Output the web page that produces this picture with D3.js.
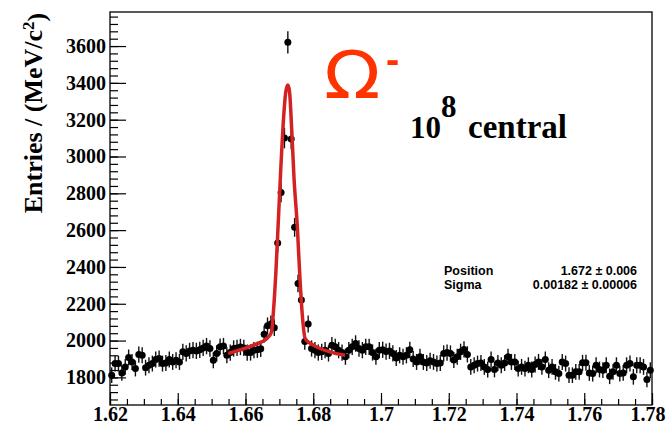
<!DOCTYPE html>
<html>
<head>
<meta charset="utf-8">
<script src="https://cdn.jsdelivr.net/npm/d3@7"></script>
<style>
    body { margin: 0; background: #fff; }
    #chart-area { width: 666px; height: 427px; }
    .axis path { display: none; }
    .axis line { stroke: #000; stroke-width: 1.2; }
    .tick-label { font-family: "Liberation Serif", "Times New Roman", serif; font-weight: bold; fill: #000; }
</style>
</head>
<body>
<div id="chart-area"></div>
<script>

// histogram: first bin edge, bin width (GeV/c^2), and entries per bin
const binStart = 1.62;
const binWidth = 0.001;
const entries = [
    1812, 1875, 1875, 1824, 1857, 1908, 1884, 1848, 1924, 1920,
    1853, 1866, 1875, 1897, 1902, 1875, 1878, 1897, 1884, 1893,
    1884, 1939, 1930, 1944, 1948, 1944, 1950, 1960, 1970, 1957,
    1893, 1930, 1967, 1970, 1920, 1935, 1957, 1960, 1965, 1960,
    1935, 1935, 1948, 1950, 1955, 2035, 2080, 2090, 2070, 2530,
    2805, 3100, 3620, 3095, 2615, 2310, 2220, 1995, 2090, 1957,
    1948, 1935, 1939, 1948, 1930, 1975, 1966, 1948, 1935, 1912,
    1948, 1966, 1984, 1957, 1948, 1966, 1966, 1935, 1912, 1948,
    1950, 1940, 1944, 1930, 1905, 1920, 1912, 1920, 1950, 1900,
    1884, 1912, 1884, 1878, 1890, 1884, 1875, 1878, 1930, 1935,
    1930, 1895, 1912, 1939, 1952, 1925, 1857, 1866, 1875, 1878,
    1857, 1843, 1897, 1843, 1878, 1866, 1878, 1912, 1884, 1884,
    1848, 1857, 1848, 1866, 1843, 1870, 1884, 1857, 1897, 1839,
    1857, 1830, 1821, 1884, 1875, 1812, 1812, 1830, 1830, 1879,
    1879, 1824, 1821, 1866, 1843, 1839, 1866, 1806, 1830, 1866,
    1821, 1824, 1866, 1875, 1803, 1866, 1866, 1857, 1789, 1839
];

// fit curve
const fitMass = [1.6549, 1.6623, 1.6663, 1.6677, 1.6682, 1.6690, 1.6697, 1.6704, 1.6712, 1.6719, 1.6725,
    1.6730, 1.6736, 1.6743, 1.6753, 1.6761, 1.6769, 1.6776, 1.6800, 1.6849, 1.6894];
const fitEntries = [1930, 1975, 2011, 2047, 2147, 2383, 2654, 2926, 3198, 3352, 3388,
    3352, 3162, 2890, 2618, 2328, 2111, 2011, 1975, 1939, 1920];

// axes
const xDomain = [1.62, 1.78];
const yDomain = [1650, 3785];
const xTicks = [1.62, 1.64, 1.66, 1.68, 1.70, 1.72, 1.74, 1.76, 1.78];
const xTickLabels = ["1.62", "1.64", "1.66", "1.68", "1.7", "1.72", "1.74", "1.76", "1.78"];
const yTicks = [1800, 2000, 2200, 2400, 2600, 2800, 3000, 3200, 3400, 3600];

// fit results
const statNames = ["Position", "Sigma"];
const statValues = ["1.672 \u00b1 0.006", "0.00182 \u00b1 0.00006"];

class OmegaVis {

    constructor(_parentElement) {
        this.parentElement = _parentElement;
        this.initVis();
    }

    initVis() {
        let vis = this;

        vis.margin = {top: 12, right: 14, bottom: 22, left: 110};
        vis.width = 666 - vis.margin.left - vis.margin.right;
        vis.height = 427 - vis.margin.top - vis.margin.bottom;

        vis.root = d3.select("#" + vis.parentElement).append("svg")
            .attr("width", 666)
            .attr("height", 427);

        vis.svg = vis.root.append("g")
            .attr("transform", "translate(" + vis.margin.left + "," + vis.margin.top + ")");

        vis.x = d3.scaleLinear().domain(xDomain).range([0, vis.width]);
        vis.y = d3.scaleLinear().domain(yDomain).range([vis.height, 0]);

        vis.wrangleData();
    }

    wrangleData() {
        let vis = this;

        vis.points = entries.map((n, i) => ({
            mass: binStart + (i + 0.5) * binWidth,
            n: n,
            err: Math.sqrt(n)
        }));

        vis.fit = fitMass.map((m, i) => ({mass: m, n: fitEntries[i]}));

        vis.updateVis();
    }

    updateVis() {
        let vis = this;

        // minor ticks first, majors on top
        let xMinor = d3.range(0, 33).map(i => xDomain[0] + i * 0.005);
        let yMinor = d3.range(1680, 3785, 40);

        vis.svg.append("g")
            .attr("class", "axis")
            .attr("transform", "translate(0," + vis.height + ")")
            .call(d3.axisBottom(vis.x).tickValues(xMinor).tickSize(-6).tickFormat(""));

        vis.svg.append("g")
            .attr("class", "axis")
            .call(d3.axisLeft(vis.y).tickValues(yMinor).tickSize(-8).tickFormat(""));

        let xAxisGroup = vis.svg.append("g")
            .attr("class", "axis x-axis")
            .attr("transform", "translate(0," + vis.height + ")")
            .call(d3.axisBottom(vis.x).tickValues(xTicks).tickSize(-12).tickPadding(2)
                .tickFormat((d, i) => xTickLabels[i]));
        xAxisGroup.selectAll("text")
            .attr("class", "tick-label")
            .style("font-size", "20px");
        // last label would run off the page, pull it in like the original
        xAxisGroup.selectAll("text")
            .filter((d, i) => i === xTicks.length - 1)
            .attr("text-anchor", "end")
            .attr("x", 13);

        let yAxisGroup = vis.svg.append("g")
            .attr("class", "axis y-axis")
            .call(d3.axisLeft(vis.y).tickValues(yTicks).tickSize(-16).tickPadding(4)
                .tickFormat(d3.format("d")));
        yAxisGroup.selectAll("text")
            .attr("class", "tick-label")
            .style("font-size", "20px");

        // frame
        vis.svg.append("rect")
            .attr("width", vis.width)
            .attr("height", vis.height)
            .attr("fill", "none")
            .attr("stroke", "#000")
            .attr("stroke-width", 1.3);

        // error bars + markers
        vis.svg.selectAll(".err")
            .data(vis.points)
            .enter()
            .append("line")
            .attr("class", "err")
            .attr("x1", d => vis.x(d.mass))
            .attr("x2", d => vis.x(d.mass))
            .attr("y1", d => vis.y(d.n - d.err))
            .attr("y2", d => vis.y(d.n + d.err))
            .attr("stroke", "#111")
            .attr("stroke-width", 1.4);

        vis.svg.selectAll(".pt")
            .data(vis.points)
            .enter()
            .append("circle")
            .attr("class", "pt")
            .attr("cx", d => vis.x(d.mass))
            .attr("cy", d => vis.y(d.n))
            .attr("r", 3.5)
            .attr("fill", "#000");

        // fit line
        vis.svg.append("path")
            .datum(vis.fit)
            .attr("fill", "none")
            .attr("stroke", "#d42222")
            .attr("stroke-width", 3.5)
            .attr("stroke-linejoin", "round")
            .attr("d", d3.line()
                .x(d => vis.x(d.mass))
                .y(d => vis.y(d.n))
                .curve(d3.curveMonotoneX));

        // y title
        let title = vis.root.append("text")
            .attr("transform", "translate(42,113) rotate(-90)")
            .attr("text-anchor", "middle")
            .attr("class", "tick-label")
            .style("font-size", "26px");
        title.append("tspan").text("Entries / (MeV/c");
        title.append("tspan").attr("dy", "-0.5em").style("font-size", "17px").text("2");
        title.append("tspan").attr("dy", "0.45em").text(")");

        // particle label
        vis.root.append("text")
            .attr("transform", "translate(324,98) scale(1.12,1)")
            .attr("font-family", "'DejaVu Sans', 'Liberation Sans', sans-serif")
            .attr("font-size", 66)
            .attr("fill", "#ff3300")
            .text("\u03a9");
        vis.root.append("text")
            .attr("x", 386).attr("y", 73)
            .attr("font-family", "'Liberation Sans', Arial, sans-serif")
            .attr("font-weight", "bold")
            .attr("font-size", 40)
            .attr("fill", "#ff3300")
            .text("-");

        // 10^8 central
        vis.root.append("text")
            .attr("class", "tick-label")
            .attr("x", 410).attr("y", 138)
            .style("font-size", "31px")
            .text("10");
        vis.root.append("text")
            .attr("class", "tick-label")
            .attr("x", 441).attr("y", 117)
            .style("font-size", "31px")
            .text("8");
        vis.root.append("text")
            .attr("class", "tick-label")
            .attr("x", 468).attr("y", 138)
            .style("font-size", "33px")
            .text("central");

        // stats
        statNames.forEach((name, i) => {
            vis.root.append("text")
                .attr("x", 444).attr("y", 275 + i * 14)
                .attr("font-family", "'Liberation Sans', Arial, sans-serif")
                .attr("font-weight", "bold")
                .attr("font-size", 12.5)
                .text(name);
            vis.root.append("text")
                .attr("x", 637).attr("y", 275 + i * 14)
                .attr("text-anchor", "end")
                .attr("font-family", "'Liberation Sans', Arial, sans-serif")
                .attr("font-weight", "bold")
                .attr("font-size", 12.5)
                .text(statValues[i]);
        });
    }
}

new OmegaVis("chart-area");

</script>
</body>
</html>
